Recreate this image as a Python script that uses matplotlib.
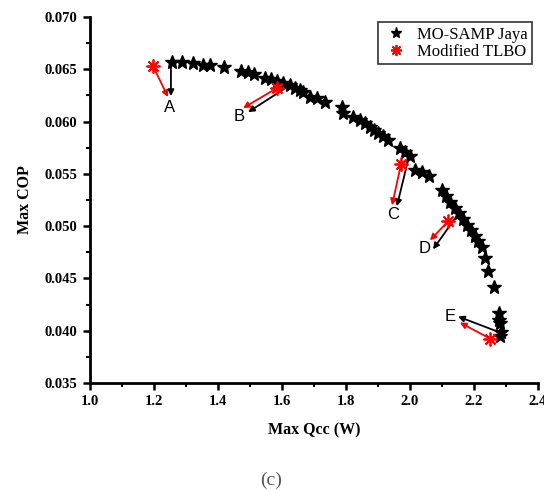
import matplotlib
matplotlib.use('Agg')
import matplotlib.pyplot as plt
from matplotlib.ticker import MultipleLocator

# ── Data ──────────────────────────────────────────────────
jaya_qcc = [1.256, 1.2875, 1.322, 1.353, 1.375, 1.419, 1.472, 1.494, 1.5125,
            1.547, 1.566, 1.584, 1.603, 1.625, 1.641, 1.656, 1.666, 1.6875,
            1.709, 1.734, 1.7875, 1.791, 1.822, 1.844, 1.859, 1.875, 1.8875,
            1.900, 1.916, 1.931, 1.969, 1.984, 2.000, 2.016, 2.0375, 2.059,
            2.100, 2.1125, 2.125, 2.141, 2.153, 2.166, 2.178, 2.191, 2.203,
            2.2125, 2.225, 2.234, 2.244, 2.2625, 2.278, 2.278, 2.281, 2.284,
            2.281]
jaya_cop = [0.06569, 0.06569, 0.06559, 0.06540, 0.06540, 0.06521, 0.06483,
            0.06473, 0.06454, 0.06416, 0.06406, 0.06387, 0.06368, 0.06349,
            0.06320, 0.06301, 0.06282, 0.06234, 0.06224, 0.06186, 0.06138,
            0.06080, 0.06042, 0.06013, 0.05985, 0.05946, 0.05918, 0.05889,
            0.05860, 0.05822, 0.05745, 0.05707, 0.05669, 0.05534, 0.05515,
            0.05477, 0.05343, 0.05285, 0.05228, 0.05170, 0.05123, 0.05065,
            0.05008, 0.04960, 0.04902, 0.04854, 0.04797, 0.04692, 0.04567,
            0.04414, 0.04165, 0.04107, 0.04069, 0.03992, 0.03954]

tlbo_qcc = [1.197, 1.584, 1.972, 2.119, 2.250]
tlbo_cop = [0.06531, 0.06320, 0.05592, 0.05046, 0.03925]

point_labels = ['A', 'B', 'C', 'D', 'E']
label_qcc = [1.250, 1.466, 1.947, 2.047, 2.125]
label_cop = [0.06138, 0.06052, 0.05113, 0.04787, 0.04136]

# arrow tips (red from TLBO point, black from Jaya point)
red_tip_qcc = [1.244, 1.478, 1.944, 2.0625, 2.156]
red_tip_cop = [0.06234, 0.06128, 0.05199, 0.04864, 0.04078]
blk_src_qcc = [1.253, 1.606, 1.994, 2.150, 2.281]
blk_src_cop = [0.06559, 0.06310, 0.05630, 0.05113, 0.03983]
blk_tip_qcc = [1.253, 1.494, 1.959, 2.072, 2.150]
blk_tip_cop = [0.06243, 0.06090, 0.05190, 0.04778, 0.04136]

# ── Figure ────────────────────────────────────────────────
fig = plt.figure(figsize=(5.44, 4.91), dpi=100)
ax = fig.add_axes([0.1654, 0.22, 0.8235, 0.7454])

serif = ['Liberation Serif', 'DejaVu Serif']

ax.plot(jaya_qcc, jaya_cop, linestyle='none', marker='*', color='black',
        markersize=10, label='MO-SAMP Jaya', zorder=3)
ax.plot(tlbo_qcc, tlbo_cop, linestyle='none', marker=(8, 2, 0), color='red',
        markersize=10, markeredgewidth=1.3, label='Modified TLBO', zorder=4)

for i, lab in enumerate(point_labels):
    ax.annotate('', xy=(red_tip_qcc[i], red_tip_cop[i]),
                xytext=(tlbo_qcc[i], tlbo_cop[i]),
                arrowprops=dict(arrowstyle='-|>', color='red', lw=1.3,
                                mutation_scale=9, shrinkA=0, shrinkB=0))
    ax.annotate('', xy=(blk_tip_qcc[i], blk_tip_cop[i]),
                xytext=(blk_src_qcc[i], blk_src_cop[i]),
                arrowprops=dict(arrowstyle='-|>', color='black', lw=1.3,
                                mutation_scale=9, shrinkA=0, shrinkB=0))
    ax.text(label_qcc[i], label_cop[i], lab, fontsize=12,
            family='Liberation Sans', ha='center', va='center')

# ── Axes styling ──────────────────────────────────────────
ax.set_xlim(1.0, 2.4)
ax.set_ylim(0.035, 0.070)
ax.xaxis.set_major_locator(MultipleLocator(0.2))
ax.xaxis.set_minor_locator(MultipleLocator(0.1))
ax.yaxis.set_major_locator(MultipleLocator(0.005))
ax.yaxis.set_minor_locator(MultipleLocator(0.0025))
ax.xaxis.set_major_formatter(plt.FuncFormatter(lambda v, p: f'{v:.1f}'))
ax.yaxis.set_major_formatter(plt.FuncFormatter(lambda v, p: f'{v:.3f}'))

for s in ['top', 'right']:
    ax.spines[s].set_visible(False)
for s in ['left', 'bottom']:
    ax.spines[s].set_linewidth(2)

ax.tick_params(which='major', direction='out', length=5, width=1.8, pad=4)
ax.tick_params(which='minor', direction='out', length=3, width=1.5)
for t in ax.get_xticklabels() + ax.get_yticklabels():
    t.set_family(serif)
    t.set_fontsize(10.5)
    t.set_fontweight('bold')

ax.set_xlabel('Max Qcc (W)', family=serif, fontsize=11.5, fontweight='bold',
              labelpad=10)
ax.set_ylabel('Max COP', family=serif, fontsize=11.5, fontweight='bold',
              labelpad=8)

leg = ax.legend(loc='upper right', bbox_to_anchor=(0.987, 0.985),
                prop={'family': serif, 'size': 12}, frameon=True,
                fancybox=False, edgecolor='black', handletextpad=0.5,
                borderpad=0.25, labelspacing=0.1, handlelength=1.6,
                markerscale=0.8, borderaxespad=0)
leg.get_frame().set_linewidth(1.2)

fig.text(0.498, 0.0225, '(c)', family=serif, fontsize=14, color='#555555',
         ha='center', va='center')

fig.savefig('out.png', dpi=100)
